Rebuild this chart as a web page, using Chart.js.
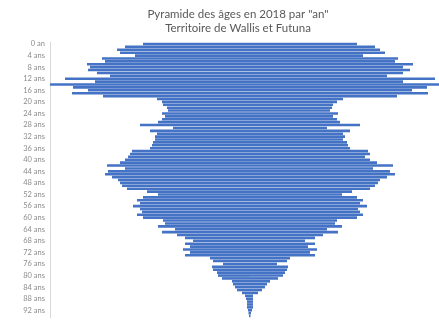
<!DOCTYPE html>
<html><head><meta charset="utf-8">
<script src="https://cdn.jsdelivr.net/npm/chart.js@4/dist/chart.umd.min.js"></script>
<style>html,body{margin:0;padding:0;background:#fff;overflow:hidden}</style>
</head><body>
<canvas id="c" width="439" height="327"></canvas>
<script>
const titleLines = ['Pyramide des âges en 2018 par "an"', 'Territoire de Wallis et Futuna'];

const categories = ["0 an","1 an","2 ans","3 ans","4 ans","5 ans","6 ans","7 ans","8 ans","9 ans",
"10 ans","11 ans","12 ans","13 ans","14 ans","15 ans","16 ans","17 ans","18 ans","19 ans",
"20 ans","21 ans","22 ans","23 ans","24 ans","25 ans","26 ans","27 ans","28 ans","29 ans",
"30 ans","31 ans","32 ans","33 ans","34 ans","35 ans","36 ans","37 ans","38 ans","39 ans",
"40 ans","41 ans","42 ans","43 ans","44 ans","45 ans","46 ans","47 ans","48 ans","49 ans",
"50 ans","51 ans","52 ans","53 ans","54 ans","55 ans","56 ans","57 ans","58 ans","59 ans",
"60 ans","61 ans","62 ans","63 ans","64 ans","65 ans","66 ans","67 ans","68 ans","69 ans",
"70 ans","71 ans","72 ans","73 ans","74 ans","75 ans","76 ans","77 ans","78 ans","79 ans",
"80 ans","81 ans","82 ans","83 ans","84 ans","85 ans","86 ans","87 ans","88 ans","89 ans",
"90 ans","91 ans","92 ans","93 ans","94 ans"];

const shownTicks = ["0 an","4 ans","8 ans","12 ans","16 ans","20 ans","24 ans","28 ans","32 ans",
"36 ans","40 ans","44 ans","48 ans","52 ans","56 ans","60 ans","64 ans","68 ans","72 ans",
"76 ans","80 ans","84 ans","88 ans","92 ans"];

const hommes = [107,125,133,130,115,148,145,163,160,162,
153,140,185,155,200,177,162,178,147,93,
88,87,83,82,88,85,88,92,110,77,
100,93,95,95,97,98,100,118,120,122,
125,130,143,125,142,145,138,132,130,128,
123,103,92,107,113,110,117,110,108,113,
107,87,85,92,75,88,73,65,57,65,
60,67,60,65,40,37,27,38,37,33,
32,28,18,17,15,13,8,5,4,3,
3,3,2,1.5,1];

const femmes = [107,125,130,135,113,148,145,163,153,160,
153,137,185,153,190,177,162,178,147,93,
87,83,82,80,88,83,87,90,110,77,
100,93,95,93,97,98,100,118,120,115,
120,127,143,123,140,145,137,130,128,125,
120,102,92,107,113,110,117,108,110,113,
107,87,85,92,77,88,73,65,55,65,
58,67,60,65,40,37,27,38,37,35,
33,28,20,17,15,12,8,3,3,3,
3,3,2,1,0.5];

const barColor = '#4472C4';

new Chart(document.getElementById('c'), {
  type: 'bar',
  data: {
    labels: categories,
    datasets: [
      { label: 'Hommes', data: hommes.map(v => -v), backgroundColor: barColor,
        categoryPercentage: 1, barPercentage: 0.9, clip: false },
      { label: 'Femmes', data: femmes, backgroundColor: barColor,
        categoryPercentage: 1, barPercentage: 0.9, clip: false }
    ]
  },
  options: {
    indexAxis: 'y',
    responsive: false,
    animation: false,
    layout: { padding: { top: 0, right: 13, bottom: 2, left: 0 } },
    plugins: {
      legend: { display: false },
      tooltip: { enabled: false },
      title: {
        display: true,
        text: titleLines,
        fullSize: false,
        color: '#595959',
        font: { family: 'Lato', size: 11.5, weight: 'normal', lineHeight: 1.22 },
        padding: { top: 7, bottom: 7.5 }
      }
    },
    scales: {
      x: { stacked: true, display: false, min: -200, max: 176 },
      y: {
        stacked: true,
        grid: { display: false, drawTicks: false },
        border: { display: true, color: '#d9d9d9' },
        ticks: {
          autoSkip: false,
          padding: 5,
          color: '#8c8c8c',
          font: { family: 'Lato', size: 7.5 },
          callback: function (v, i) {
            const c = categories[i];
            return shownTicks.includes(c) ? c : '';
          }
        },
        afterFit: function (s) { s.width = 50; }
      }
    }
  }
});
</script>
</body></html>
